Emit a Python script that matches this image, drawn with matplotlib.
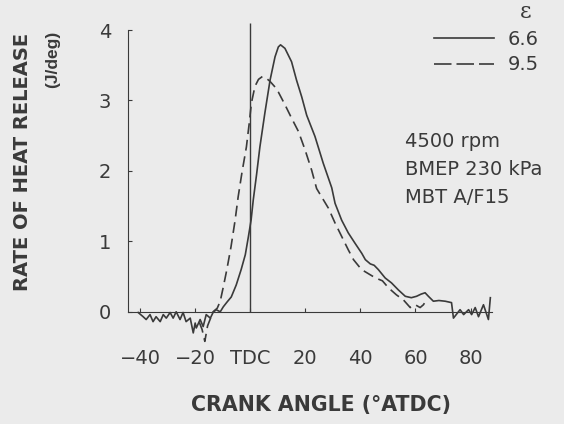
import matplotlib
matplotlib.use("Agg")
import matplotlib.pyplot as plt
from matplotlib.lines import Line2D

# rate of heat release, compression ratio 6.6 (solid)
ca_66 = [-40.7, -38.9, -37.8, -36.4, -35.3, -34.2, -32.7, -31.6, -30.5, -29.1,
         -28.0, -26.9, -25.5, -24.4, -23.3, -21.8, -20.7, -20.0, -19.6, -18.2,
         -17.1, -16.0, -14.5, -13.5, -12.4, -10.9, -9.8, -8.4, -6.9, -5.1,
         -3.3, -1.8, -0.7, 0.3, 1.1, 2.3, 3.5, 5.3, 7.2, 9.0,
         10.2, 11.0, 12.6, 15.0, 16.8, 18.7, 20.5, 23.5, 26.5, 29.6,
         30.8, 33.2, 35.6, 38.1, 40.5, 41.8, 43.6, 45.0, 46.5, 49.0,
         51.3, 53.8, 56.3, 58.5, 60.4, 62.0, 63.5, 64.7, 66.5, 68.5,
         70.8, 73.1, 73.8, 76.2, 77.5, 79.3, 80.4, 81.7, 82.9, 84.7,
         86.5, 87.2]
hr_66 = [-0.01, -0.07, -0.11, -0.04, -0.14, -0.07, -0.14, -0.04, -0.09, -0.01,
         -0.09, 0.00, -0.11, -0.01, -0.14, -0.09, -0.30, -0.16, -0.23, -0.11,
         -0.21, -0.04, -0.09, -0.01, 0.03, 0.00, 0.07, 0.14, 0.21, 0.38,
         0.60, 0.81, 1.06, 1.30, 1.59, 1.95, 2.34, 2.82, 3.29, 3.62,
         3.76, 3.79, 3.74, 3.55, 3.29, 3.05, 2.79, 2.49, 2.11, 1.76,
         1.54, 1.30, 1.12, 0.97, 0.83, 0.74, 0.68, 0.66, 0.60, 0.48,
         0.41, 0.31, 0.22, 0.20, 0.22, 0.25, 0.27, 0.22, 0.15, 0.16,
         0.15, 0.13, -0.09, 0.03, -0.04, 0.03, -0.04, 0.06, -0.07, 0.10,
         -0.11, 0.20]

# compression ratio 9.5 (dashed)
ca_95 = [-18.5, -17.5, -16.5, -15.5, -14.5, -13.5, -12.0, -10.9, -9.8, -8.5,
         -7.0, -5.5, -4.4, -3.0, -1.4, -0.3, 0.4, 1.7, 3.0, 4.4,
         6.0, 7.2, 8.8, 10.2, 12.6, 15.0, 17.5, 19.9, 22.3, 24.1,
         28.4, 30.8, 33.2, 35.6, 37.5, 40.4, 45.5, 48.0, 50.2, 53.1,
         55.6, 58.1, 59.9, 61.7, 62.9, 64.0]
hr_95 = [-0.15, -0.25, -0.42, -0.20, -0.10, 0.00, 0.05, 0.15, 0.35, 0.60,
         0.92, 1.30, 1.63, 1.98, 2.34, 2.70, 2.96, 3.20, 3.30, 3.34,
         3.31, 3.27, 3.20, 3.12, 2.94, 2.75, 2.56, 2.30, 2.01, 1.75,
         1.47, 1.26, 1.07, 0.88, 0.74, 0.60, 0.48, 0.44, 0.34, 0.24,
         0.17, 0.06, 0.10, 0.06, 0.10, 0.17]

xticks = [-40, -20, 0, 20, 40, 60, 80]
xticklabels = ["\u221240", "\u221220", "TDC", "20", "40", "60", "80"]
yticks = [0, 1, 2, 3, 4]
conditions = ["4500 rpm", "BMEP 230 kPa", "MBT A/F15"]
ratios = ["6.6", "9.5"]

bg = "#ebebeb"
ink = "#3a3a3a"
plt.rcParams["font.family"] = ["DejaVu Sans"]

fig = plt.figure(figsize=(5.64, 4.24), dpi=100, facecolor=bg)
ax = fig.add_axes([128/564, 77/424, 364/564, 324/424])
ax.set_facecolor(bg)

ax.plot(ca_66, hr_66, color=ink, lw=1.2)
ax.plot(ca_95, hr_95, color=ink, lw=1.2, dashes=(6.5, 3.5))
ax.vlines(0, 0, 4.1, color=ink, lw=1.0)

ax.set_xlim(-44.4, 87.8)
ax.set_ylim(-0.5, 4.1)
for s in ["top", "right"]:
    ax.spines[s].set_visible(False)
ax.spines["left"].set_bounds(0, 4)
ax.spines["bottom"].set_position(("data", 0))
ax.spines["left"].set_color(ink)
ax.spines["bottom"].set_color(ink)

ax.set_xticks(xticks)
ax.set_xticklabels(xticklabels)
ax.set_yticks(yticks)
ax.tick_params(axis="x", direction="in", length=3, pad=27, labelsize=14,
               colors=ink)
ax.tick_params(axis="y", direction="in", length=3, pad=12, labelsize=14,
               colors=ink)

# condition notes
for i, txt in enumerate(conditions):
    ax.text(0.76, 0.635 - i*0.087, txt, transform=ax.transAxes, fontsize=14,
            color=ink, va="center", ha="left")

handles = [Line2D([], [], color=ink, lw=1.2),
           Line2D([], [], color=ink, lw=1.2, dashes=(10.5, 3))]
leg = fig.legend(handles, ratios, loc="upper right",
                 bbox_to_anchor=(545/564, 1 + 5/424), frameon=False,
                 fontsize=14, handlelength=3.1, handletextpad=0.7,
                 labelspacing=0.35, title="\u03b5 ", alignment="right",
                 labelcolor=ink, borderaxespad=0, borderpad=0.3)
leg.get_title().set_color(ink)
leg.get_title().set_family("DejaVu Serif")
leg.get_title().set_fontsize(16)

fig.text(23/564, 1 - 33/424, "RATE OF HEAT RELEASE", rotation=90,
         ha="center", va="top", fontsize=14, fontweight="bold", color=ink)
fig.text(53/564, 1 - 31/424, "(J/deg)", rotation=90,
         ha="center", va="top", fontsize=12.5, fontweight="bold", color=ink,
         family="Liberation Sans")
fig.text(321/564, 1 - 405/424, "CRANK ANGLE (\u00b0ATDC)", ha="center",
         va="center", fontsize=14.8, fontweight="bold", color=ink)

fig.savefig("out.png", dpi=100, facecolor=bg)
